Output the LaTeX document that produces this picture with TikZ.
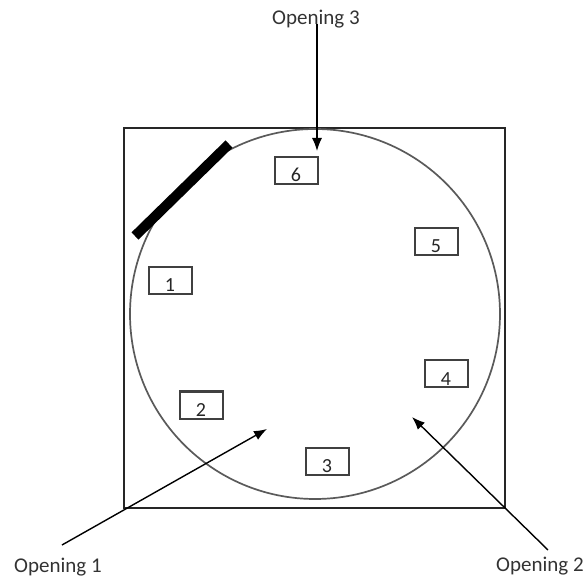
\documentclass[tikz,border=0pt]{standalone}
\usepackage{fontspec}
\setmainfont{Carlito}
\usepackage{tikz}
\usetikzlibrary{arrows.meta}
\definecolor{grigio}{HTML}{5A5A5A}
\tikzset{
  casella/.style={draw=black!75, line width=2pt, minimum width=43pt, minimum height=27pt, inner sep=0pt, text height=22pt, text depth=0pt, text=black!85, font=\fontsize{20}{22}\selectfont},
  etichetta/.style={font=\fontsize{21}{24}\selectfont, inner sep=0pt, text=black!80},
  freccia/.style={line width=1.4pt, -{Latex[length=13pt,width=10pt]}}
}
\begin{document}
\begin{tikzpicture}[x=1pt, y=-1pt]
        \useasboundingbox (0,0) rectangle (587,580);
        % Recinto quadrato e pista circolare
        \draw[line width=1.8pt, color=black!85] (124,128) rectangle (505,508);
        \draw[line width=1.7pt, color=grigio] (315,314) circle (185);
        % Barra nera
        \draw[line width=10pt] (135,236) -- (229,144);
        % Caselle numerate
        \node[casella] (b1) at (170,281) {1};
        \node[casella] (b2) at (201,405) {2};
        \node[casella] (b3) at (327,461) {3};
        \node[casella] (b4) at (446,374) {4};
        \node[casella] (b5) at (436,242) {5};
        \node[casella] (b6) at (296,171) {6};
        % Aperture
        \node[etichetta] (op1) at (58,567) {Opening 1};
        \node[etichetta] (op2) at (540,566) {Opening 2};
        \node[etichetta] (op3) at (316,19) {Opening 3};
        \coordinate (s1) at (62,545);
        \coordinate (t1) at (267,429);
        \coordinate (s2) at (548,550);
        \coordinate (t2) at (412,417);
        \coordinate (s3) at (317,24);
        \coordinate (t3) at (317,151);
        \draw[freccia] (s1) -- (t1);
        \draw[freccia] (s2) -- (t2);
        \draw[freccia] (s3) -- (t3);
    \end{tikzpicture}
\end{document}
